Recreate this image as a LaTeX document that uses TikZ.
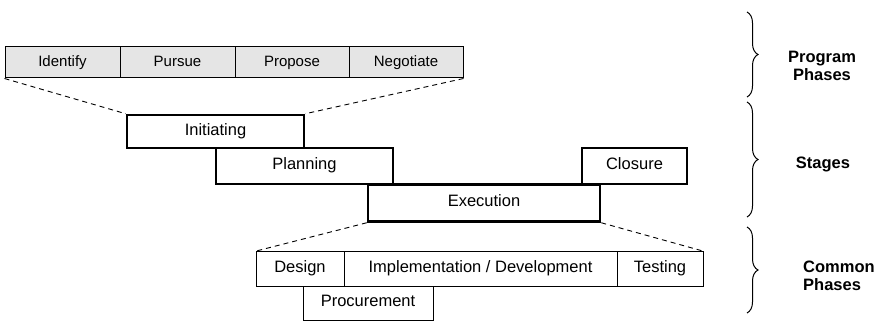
\documentclass[tikz,border=0pt]{standalone}
\usepackage{fontspec}
\setmainfont{Liberation Sans}
\usetikzlibrary{decorations.pathreplacing}
\begin{document}
\begin{tikzpicture}[x=1pt,y=-1pt,
  capcentre/.style={text height=0.716em,text depth=0pt},
  phasecell/.style={capcentre,draw=black,line width=1pt,fill=black!10,minimum height=31pt,inner sep=0pt,font=\fontsize{15}{17}\selectfont},
  stagebox/.style={capcentre,draw=black,line width=2.5pt,fill=white,inner sep=0pt,font=\fontsize{16.5}{18}\selectfont},
  commoncell/.style={capcentre,draw=black,line width=1pt,fill=white,inner sep=0pt,font=\fontsize{16.5}{18}\selectfont},
  zoomline/.style={dashed,dash pattern=on 5pt off 4pt,line width=0.9pt},
  groupbrace/.style={decorate,decoration={brace,amplitude=11pt},line width=1pt},
  grouplabel/.style={font=\bfseries\fontsize{16.5}{18.5}\selectfont,inner sep=0pt}]
\useasboundingbox (0,0) rectangle (885,334);
% program phases
\node[phasecell,minimum width=115pt] (identify) at (62.5,62.5) {Identify};
\node[phasecell,minimum width=115pt] (pursue) at (177.5,62.5) {Pursue};
\node[phasecell,minimum width=114pt] (propose) at (292,62.5) {Propose};
\node[phasecell,minimum width=114pt] (negotiate) at (406,62.5) {Negotiate};
% stages
\node[stagebox,minimum width=177pt,minimum height=33pt] (init) at (215.5,131.5) {Initiating};
\node[stagebox,minimum width=177pt,minimum height=36pt] (plan) at (304.5,166) {Planning};
\node[stagebox,minimum width=105pt,minimum height=36pt] (closure) at (634.5,166) {Closure};
\node[stagebox,minimum width=232pt,minimum height=37pt] (exec) at (484,203) {Execution};
% common phases
\node[commoncell,minimum width=88pt,minimum height=35pt] (design) at (300,269.2) {Design};
\node[commoncell,minimum width=273pt,minimum height=35pt] (impl) at (480.5,269.2) {Implementation / Development};
\node[commoncell,minimum width=86pt,minimum height=35pt] (testing) at (660,269.2) {Testing};
\node[commoncell,minimum width=130pt,minimum height=33.3pt] (proc) at (368,303.4) {Procurement};
% zoom lines
\draw[zoomline] (identify.south west) -- (init.north west);
\draw[zoomline] (negotiate.south east) -- (init.north east);
\draw[zoomline] (exec.south west) -- (design.north west);
\draw[zoomline] (exec.south east) -- (testing.north east);
% braces
\coordinate (b1t) at (747,12);
\coordinate (b1b) at (747,97);
\coordinate (b2t) at (747,102);
\coordinate (b2b) at (747,217);
\coordinate (b3t) at (747,227);
\coordinate (b3b) at (747,313);
\draw[groupbrace] (b1t) -- (b1b);
\draw[groupbrace] (b2t) -- (b2b);
\draw[groupbrace] (b3t) -- (b3b);
\node[grouplabel,align=center] (lprog) at (822,66) {Program\\Phases};
\node[grouplabel] (lstage) at (823,164) {Stages};
\node[grouplabel,align=left,anchor=west] (lcommon) at (803,276) {Common\\Phases};
\end{tikzpicture}
\end{document}
